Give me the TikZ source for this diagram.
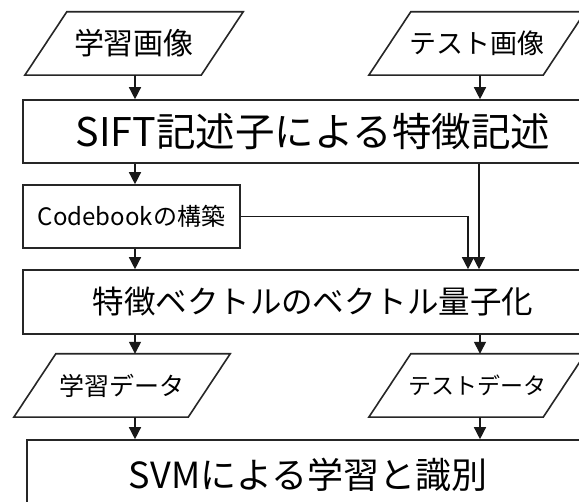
\documentclass[tikz,border=0pt]{standalone}
\usepackage{fontspec}
\newfontfamily\jp{Noto Sans CJK JP}
\usetikzlibrary{arrows.meta}
\tikzset{
  x=1pt, y=-1pt,
  box/.style={draw=black!85, line width=1.6pt, rectangle, inner sep=0pt, font=\jp},
  para/.style={inner sep=0pt, minimum height=63pt, font=\jp,
    append after command={
      \pgfextra{\draw[black!85, line width=1.6pt]
        ([xshift=21pt]\tikzlastnode.north west) -- ([xshift=21pt]\tikzlastnode.north east)
        -- ([xshift=-21pt]\tikzlastnode.south east) -- ([xshift=-21pt]\tikzlastnode.south west) -- cycle;}}},
  conn/.style={draw=black!90, line width=1.4pt},
  arr/.style={conn, -{Triangle[length=12pt,width=12pt]}}
}
\begin{document}
\begin{tikzpicture}
\useasboundingbox (0,0) rectangle (579,502);
\clip (0,0) rectangle (579,502);
\fill[white] (0,0) rectangle (579,502);
% input parallelograms
\node[para, minimum width=176pt, font=\jp\fontsize{30}{30}\selectfont] (trimg) at (134,43.5) {学習画像};
\node[para, minimum width=174pt, font=\jp\fontsize{27}{27}\selectfont] (teimg) at (477,43.5) {テスト画像};
% SIFT box
\node[box, minimum width=580pt, minimum height=63pt, font=\jp\fontsize{39.5}{39.5}\selectfont] (sift) at (313,131.5) {SIFT記述子による特徴記述};
% Codebook box
\node[box, minimum width=217pt, minimum height=63pt, font=\jp\fontsize{24}{24}\selectfont] (cb) at (131.5,216.5) {Codebookの構築};
% Quantization box
\node[box, minimum width=580pt, minimum height=64pt, font=\jp\fontsize{31.5}{31.5}\selectfont] (vq) at (313,302) {特徴ベクトルのベクトル量子化};
% data parallelograms
\node[para, minimum width=174pt, font=\jp\fontsize{25}{25}\selectfont] (trdat) at (122,385.5) {学習データ};
\node[para, minimum width=174pt, font=\jp\fontsize{23}{23}\selectfont] (tedat) at (477,385.5) {テストデータ};
% SVM box
\node[box, minimum width=562pt, minimum height=70pt, font=\jp\fontsize{36}{36}\selectfont] (svm) at (308,475) {SVMによる学習と識別};
% coordinates for connector columns
\coordinate (L) at (135,0);
\coordinate (R) at (480,0);
\coordinate (Rq) at (468,0);
% connectors
\draw[arr] (trimg.south -| L) -- (sift.north -| L);
\draw[arr] (teimg.south -| R) -- (sift.north -| R);
\draw[arr] (sift.south -| L) -- (cb.north -| L);
\draw[arr] (cb.south -| L) -- (vq.north -| L);
\draw[arr] (cb.east) -| (vq.north -| Rq);
\draw[arr] ([xshift=-1pt]sift.south -| R) -- ([xshift=-1pt]vq.north -| R);
\draw[arr] (vq.south -| L) -- (trdat.north -| L);
\draw[arr] (vq.south -| R) -- (tedat.north -| R);
\draw[arr] (trdat.south -| L) -- (svm.north -| L);
\draw[arr] (tedat.south -| R) -- (svm.north -| R);
\end{tikzpicture}
\end{document}
